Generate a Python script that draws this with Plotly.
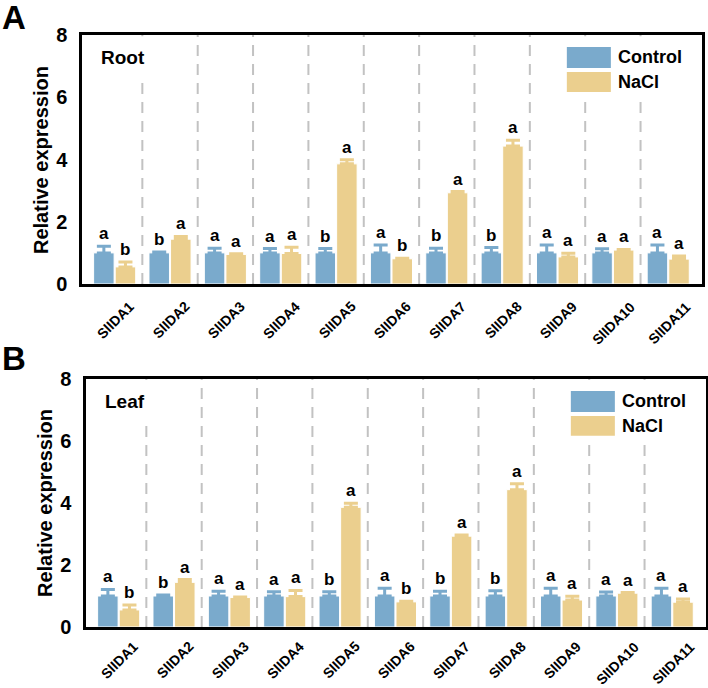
import plotly.graph_objects as go

# ---------------- data ----------------
genes = ["SlIDA1", "SlIDA2", "SlIDA3", "SlIDA4", "SlIDA5", "SlIDA6",
         "SlIDA7", "SlIDA8", "SlIDA9", "SlIDA10", "SlIDA11"]
series_names = ["Control", "NaCl"]
yticks = [0, 2, 4, 6, 8]

root_ctrl = [1.00, 1.00, 1.00, 1.00, 1.00, 1.00, 1.00, 1.00, 1.00, 1.00, 1.00]
root_ctrl_err = [0.21, 0.03, 0.15, 0.14, 0.14, 0.25, 0.15, 0.17, 0.25, 0.13, 0.25]
root_nacl = [0.55, 1.44, 0.95, 0.98, 3.86, 0.81, 2.93, 4.43, 0.87, 1.09, 0.80]
root_nacl_err = [0.16, 0.09, 0.02, 0.20, 0.13, 0.02, 0.04, 0.19, 0.12, 0.02, 0.10]
root_ctrl_sig = ["a", "b", "a", "a", "b", "a", "b", "b", "a", "a", "a"]
root_nacl_sig = ["b", "a", "a", "a", "a", "b", "a", "a", "a", "a", "a"]

leaf_ctrl = [1.00, 1.00, 1.00, 1.00, 1.00, 1.00, 1.00, 1.00, 1.00, 1.00, 1.00]
leaf_ctrl_err = [0.21, 0.03, 0.15, 0.14, 0.14, 0.25, 0.15, 0.17, 0.25, 0.13, 0.25]
leaf_nacl = [0.55, 1.44, 0.95, 0.98, 3.86, 0.81, 2.93, 4.43, 0.87, 1.09, 0.80]
leaf_nacl_err = [0.16, 0.09, 0.02, 0.20, 0.13, 0.02, 0.04, 0.19, 0.12, 0.02, 0.10]
leaf_ctrl_sig = ["a", "b", "a", "a", "b", "a", "b", "b", "a", "a", "a"]
leaf_nacl_sig = ["b", "a", "a", "a", "a", "b", "a", "a", "a", "a", "a"]

# ---------------- style ----------------
BLUE = "#7AAACC"
YELLOW = "#EBCF8E"
FONT = "Arial, Liberation Sans, sans-serif"
BARGAP = 0.22
OFF = (1 - BARGAP) / 4

xpos = list(range(len(genes)))

fig = go.Figure()

panels = [
    dict(tag="A", label="Root", xa="x", ya="y",
         ctrl=root_ctrl, ce=root_ctrl_err, nacl=root_nacl, ne=root_nacl_err,
         cs=root_ctrl_sig, ns=root_nacl_sig, tshift=-12),
    dict(tag="B", label="Leaf", xa="x2", ya="y2",
         ctrl=leaf_ctrl, ce=leaf_ctrl_err, nacl=leaf_nacl, ne=leaf_nacl_err,
         cs=leaf_ctrl_sig, ns=leaf_nacl_sig, tshift=-9),
]

shapes = []
annotations = []

for p in panels:
    for name, vals, errs, col in [("Control", p["ctrl"], p["ce"], BLUE),
                                  ("NaCl", p["nacl"], p["ne"], YELLOW)]:
        fig.add_trace(go.Bar(
            x=xpos, y=vals, name=name, xaxis=p["xa"], yaxis=p["ya"],
            marker=dict(color=col, line=dict(color="white", width=1)),
            error_y=dict(type="data", array=errs, arrayminus=[0] * len(errs),
                         symmetric=False, color=col, thickness=3, width=7),
            showlegend=False,
        ))
    xd = p["xa"] + " domain"
    yd = p["ya"] + " domain"
    # dashed separators
    for i in range(len(genes) - 1):
        shapes.append(dict(type="line", xref=p["xa"], yref=yd,
                           x0=i + 0.5, x1=i + 0.5, y0=0, y1=1, layer="below",
                           line=dict(color="#C2C2C2", width=2, dash="11px,8px")))
    # white boxes behind label & legend
    shapes.append(dict(type="rect", xref=xd, yref=yd, x0=0.005, x1=0.126,
                       y0=0.831, y1=0.995, layer="below",
                       fillcolor="white", line=dict(width=0)))
    shapes.append(dict(type="rect", xref=xd, yref=yd, x0=0.77, x1=0.995,
                       y0=0.739, y1=0.995, layer="below",
                       fillcolor="white", line=dict(width=0)))
    # legend patches
    for (y0, y1, col, txt, yc) in [(0.867, 0.952, BLUE, series_names[0], 0.910),
                                   (0.771, 0.851, YELLOW, series_names[1], 0.811)]:
        shapes.append(dict(type="rect", xref=xd, yref=yd, x0=0.782, x1=0.853,
                           y0=y0, y1=y1, fillcolor=col, line=dict(width=0),
                           layer="above"))
        annotations.append(dict(text=txt, xref=xd, yref=yd, x=0.862, y=yc,
                                xanchor="left", yanchor="middle", showarrow=False,
                                font=dict(family=FONT, size=18, color="black",
                                          weight="bold")))
    # panel label (Root / Leaf)
    annotations.append(dict(text=p["label"], xref=xd, yref=yd, x=0.028, y=0.91,
                            xanchor="left", yanchor="middle", showarrow=False,
                            font=dict(family=FONT, size=19, color="black",
                                      weight="bold")))
    # rotated category labels
    for i, g in zip(xpos, genes):
        annotations.append(dict(text=g, xref=p["xa"], yref=yd, x=i, y=0,
                                xanchor="center", yanchor="top", xshift=1,
                                yshift=p["tshift"], textangle=-45, showarrow=False,
                                font=dict(family=FONT, size=14, color="black",
                                          weight="bold")))
    # significance letters
    for i in xpos:
        for dx, v, e, s in [(-OFF, p["ctrl"][i], p["ce"][i], p["cs"][i]),
                            (OFF, p["nacl"][i], p["ne"][i], p["ns"][i])]:
            annotations.append(dict(text=s, xref=p["xa"], yref=p["ya"],
                                    x=i + dx, y=v + e, xanchor="center",
                                    yanchor="bottom", yshift=1, showarrow=False,
                                    font=dict(family=FONT, size=17, color="black",
                                              weight="bold")))

# panel tags & y titles
W, H = 708, 688
annotations.append(dict(text="A", xref="paper", yref="paper", x=0.0, y=1.0,
                        xanchor="left", yanchor="top", yshift=3, showarrow=False,
                        font=dict(family=FONT, size=33, color="black", weight="bold")))
annotations.append(dict(text="B", xref="paper", yref="paper", x=0.0, y=1 - 338 / H,
                        xanchor="left", yanchor="top", showarrow=False,
                        font=dict(family=FONT, size=33, color="black", weight="bold")))
annotations.append(dict(text="Relative expression", xref="paper", yref="paper",
                        x=41 / W, y=1 - 160 / H, textangle=-90, showarrow=False,
                        xanchor="center", yanchor="middle",
                        font=dict(family=FONT, size=20, color="black", weight="bold")))
annotations.append(dict(text="Relative expression", xref="paper", yref="paper",
                        x=45 / W, y=1 - 503 / H, textangle=-90, showarrow=False,
                        xanchor="center", yanchor="middle",
                        font=dict(family=FONT, size=20, color="black", weight="bold")))

xaxis_common = dict(range=[-0.59, 10.61], tickmode="array", tickvals=xpos,
                    ticktext=genes, showticklabels=False, showgrid=False,
                    zeroline=False, showline=True, linecolor="black", linewidth=2.5,
                    mirror=True, ticks="", automargin=False)
yaxis_common = dict(range=[0, 8], tickmode="array", tickvals=yticks, showgrid=False,
                    zeroline=False, showline=True, linecolor="black", linewidth=2.5,
                    mirror=True, ticks="", ticklabelstandoff=8, automargin=False,
                    tickfont=dict(family=FONT, size=20, color="black", weight="bold"))

fig.update_layout(
    width=W, height=H,
    margin=dict(l=0, r=0, t=0, b=0, pad=0, autoexpand=False),
    paper_bgcolor="white", plot_bgcolor="white",
    barmode="group", bargap=BARGAP, bargroupgap=0.05,
    xaxis=dict(domain=[82 / W, 702 / W], anchor="y", **xaxis_common),
    yaxis=dict(domain=[1 - 284 / H, 1 - 35 / H], anchor="x", **yaxis_common),
    xaxis2=dict(domain=[86 / W, 706 / W], anchor="y2", **xaxis_common),
    yaxis2=dict(domain=[1 - 627 / H, 1 - 379 / H], anchor="x2", **yaxis_common),
    shapes=shapes, annotations=annotations, showlegend=False,
)

fig.write_html("out.html")
